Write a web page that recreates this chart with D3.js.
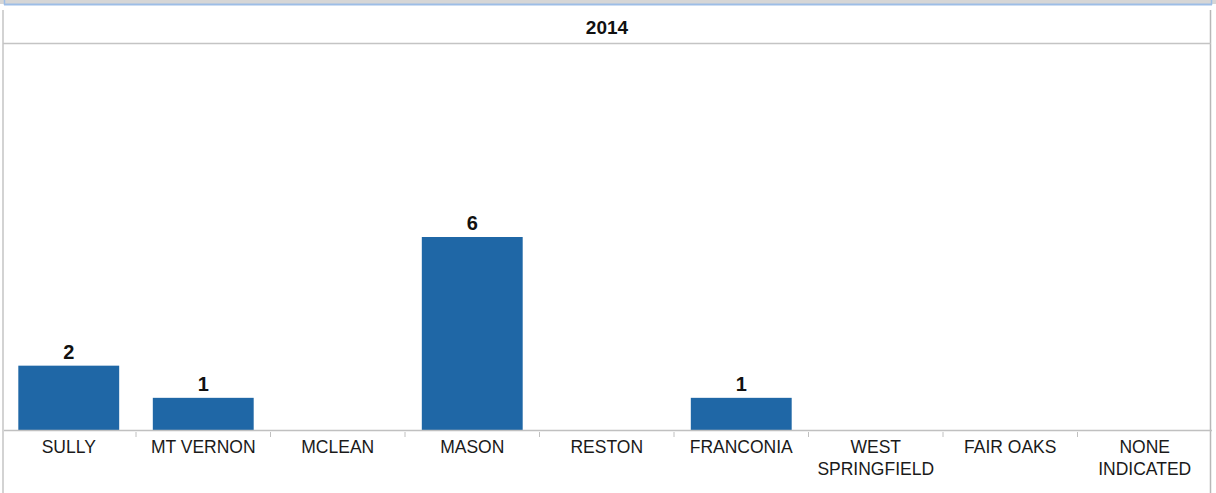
<!DOCTYPE html>
<html>
<head>
<meta charset="utf-8">
<script src="https://cdn.jsdelivr.net/npm/d3@7"></script>
<style>
  body { margin: 0; background: #fff; }
  svg { display: block; font-family: "Liberation Sans", Arial, sans-serif; }
</style>
</head>
<body>
<div id="chart"></div>
<script>
// 2014 counts by district
const districts = ['SULLY', 'MT VERNON', 'MCLEAN', 'MASON', 'RESTON', 'FRANCONIA', 'WEST SPRINGFIELD', 'FAIR OAKS', 'NONE INDICATED'];
const counts = [2, 1, 0, 6, 0, 1, 0, 0, 0];
const labelLines = [['SULLY'], ['MT VERNON'], ['MCLEAN'], ['MASON'], ['RESTON'], ['FRANCONIA'], ['WEST', 'SPRINGFIELD'], ['FAIR OAKS'], ['NONE', 'INDICATED']];
const title = '2014';

const W = 1216, H = 493;
const baseY = 430, topY = 44;

const svg = d3.select('#chart').append('svg').attr('width', W).attr('height', H);

// top strip
svg.append('rect').attr('x', 0).attr('y', 0).attr('width', W).attr('height', 4).attr('fill', '#d6d6d6');
svg.append('line').attr('x1', 4).attr('x2', 1212).attr('y1', 4.5).attr('y2', 4.5)
    .attr('stroke', '#9dbde6').attr('stroke-width', 2);
svg.append('line').attr('x1', 4.5).attr('x2', 4.5).attr('y1', 0).attr('y2', 5)
    .attr('stroke', '#9dbde6').attr('stroke-width', 1.5);
svg.append('line').attr('x1', 1211.5).attr('x2', 1211.5).attr('y1', 0).attr('y2', 5)
    .attr('stroke', '#9dbde6').attr('stroke-width', 1.5);

// panel borders
svg.append('line').attr('x1', 3).attr('x2', 3).attr('y1', 10).attr('y2', H)
    .attr('stroke', '#c4c4c4').attr('stroke-width', 1.5);
svg.append('line').attr('x1', 1210.5).attr('x2', 1210.5).attr('y1', 10).attr('y2', H)
    .attr('stroke', '#b8b8b8').attr('stroke-width', 1.5);
svg.append('line').attr('x1', 3).attr('x2', 1211).attr('y1', 43.5).attr('y2', 43.5)
    .attr('stroke', '#c4c4c4').attr('stroke-width', 1.5);

svg.append('text').attr('x', 607).attr('y', 34).attr('text-anchor', 'middle')
    .style('font-size', '19px').style('font-weight', 'bold').style('fill', '#111')
    .text(title);

const x = d3.scaleBand().domain(districts).range([1.5, 1212]).paddingInner(0.25).paddingOuter(0.125);
const y = d3.scaleLinear().domain([0, 12]).range([baseY, topY]);

svg.selectAll('rect.bar').data(districts).join('rect')
    .attr('class', 'bar')
    .attr('x', d => x(d))
    .attr('width', x.bandwidth())
    .attr('y', (d, i) => y(counts[i]))
    .attr('height', (d, i) => baseY - y(counts[i]))
    .attr('fill', '#1f67a6');

svg.selectAll('text.val').data(districts.filter((d, i) => counts[i] > 0)).join('text')
    .attr('class', 'val')
    .attr('x', d => x(d) + x.bandwidth() / 2)
    .attr('y', d => y(counts[districts.indexOf(d)]) - 7)
    .attr('text-anchor', 'middle')
    .style('font-size', '20px').style('font-weight', 'bold').style('fill', '#111')
    .text(d => counts[districts.indexOf(d)]);

// axis
svg.append('line').attr('x1', 4).attr('x2', 1212).attr('y1', baseY + 0.5).attr('y2', baseY + 0.5)
    .attr('stroke', '#c0c0c0').attr('stroke-width', 1.5);

const step = x.step();
const bounds = d3.range(1, districts.length).map(i => x(districts[i]) - step * 0.125);
svg.selectAll('line.tick').data(bounds).join('line')
    .attr('class', 'tick')
    .attr('x1', d => d).attr('x2', d => d)
    .attr('y1', baseY + 2).attr('y2', baseY + 7)
    .attr('stroke', '#c0c0c0').attr('stroke-width', 1);

const lbl = svg.selectAll('text.cat').data(districts).join('text')
    .attr('class', 'cat')
    .attr('x', d => x(d) + x.bandwidth() / 2)
    .attr('y', 453)
    .attr('text-anchor', 'middle')
    .style('font-size', '17.5px').style('fill', '#1a1a1a');
lbl.each(function(d, i) {
    const t = d3.select(this);
    labelLines[i].forEach((s, k) => {
        t.append('tspan').attr('x', x(d) + x.bandwidth() / 2).attr('dy', k === 0 ? 0 : 22).text(s);
    });
});
</script>
</body>
</html>
